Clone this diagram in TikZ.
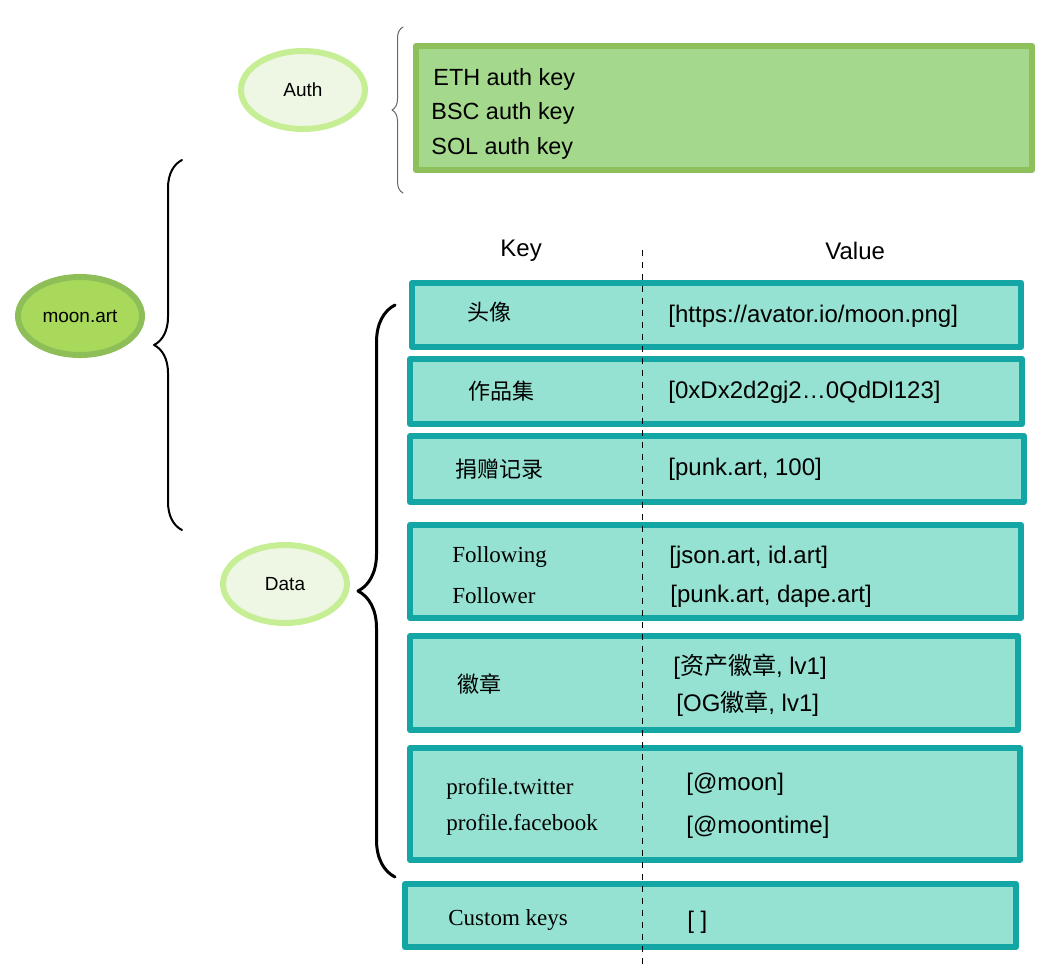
\documentclass[tikz,border=0pt]{standalone}
\usepackage{fontspec}
\setmainfont{Liberation Serif}
\setsansfont{Liberation Sans}
\newfontfamily\cjk{Noto Sans CJK SC}
\usetikzlibrary{shapes.geometric,fit,decorations.pathreplacing}
\definecolor{tealline}{HTML}{14A5A5}
\definecolor{tealfill}{HTML}{95E2D3}
\definecolor{authline}{HTML}{8DC05B}
\definecolor{authfill}{HTML}{A4D88C}
\definecolor{moonline}{HTML}{8EBE57}
\definecolor{moonfill}{HTML}{A9D95B}
\definecolor{paleline}{HTML}{C6EF95}
\definecolor{palefill}{HTML}{EEF6E4}
\begin{document}
\begin{tikzpicture}[x=0.5pt,y=-0.5pt,line join=round,line cap=round,
 rowbox/.style={draw=tealline,fill=tealfill,line width=3pt,inner sep=0pt},
 authbox/.style={draw=authline,fill=authfill,line width=3pt,inner sep=0pt},
 bubble/.style={ellipse,line width=3pt,inner sep=0pt,minimum width=62pt,minimum height=39pt,font=\sffamily\fontsize{9.5}{11}\selectfont},
 keytxt/.style={anchor=west,inner sep=0pt,yshift=-0.8pt,font=\fontsize{11.5}{13}\selectfont},
 cjktxt/.style={anchor=west,inner sep=0pt,font=\cjk\fontsize{11}{13}\selectfont},
 valtxt/.style={anchor=west,inner sep=0pt,yshift=-0.8pt,font=\sffamily\fontsize{12}{14}\selectfont},
 bigbrace/.style={decorate,decoration={brace,amplitude=#1}}]
 \useasboundingbox (0,0) rectangle (1054,966);
 % ellipses
 \node[bubble,draw=moonline,fill=moonfill] (moon) at (80,316) {moon.art};
 \node[bubble,draw=paleline,fill=palefill] (auth) at (303,90) {Auth};
 \node[bubble,draw=paleline,fill=palefill] (data) at (285,584) {Data};
 % braces
 \coordinate (mtop) at (182,160); \coordinate (mbot) at (182,530);
 \coordinate (atop) at (403,27); \coordinate (abot) at (403,193);
 \coordinate (dtop) at (395,305); \coordinate (dbot) at (395,877);
 \draw[bigbrace=14pt,line width=1pt] (mbot) -- (mtop);
 \draw[bigbrace=5.5pt,line width=0.5pt,black!60] (abot) -- (atop);
 \draw[bigbrace=18.5pt,line width=1.5pt] (dbot) -- (dtop);
 % auth keys
 \node[authbox,fit={(416,46) (1032,170)}] (keys) {};
 \node[valtxt,font=\sffamily\fontsize{11.7}{14}\selectfont] (eth) at (433,78) {ETH auth key};
 \node[valtxt,font=\sffamily\fontsize{11.7}{14}\selectfont] (bsc) at (431,112) {BSC auth key};
 \node[valtxt,font=\sffamily\fontsize{11.7}{14}\selectfont] (sol) at (431,147) {SOL auth key};
 % data rows
 \node[rowbox,fit={(412,283) (1021,347)}] (r1) {};
 \node[rowbox,fit={(410,359) (1022,424)}] (r2) {};
 \node[rowbox,fit={(410,436) (1024,502)}] (r3) {};
 \node[rowbox,fit={(410,525) (1021,618)}] (r4) {};
 \node[rowbox,fit={(410,636) (1018,730)}] (r5) {};
 \node[rowbox,fit={(410,748) (1020,860)}] (r6) {};
 \node[rowbox,fit={(405,884) (1016,947)}] (r7) {};
 \coordinate (ltop) at (642,250); \coordinate (lbot) at (642,966);
 \draw[dashed,line width=0.5pt,line cap=butt] (ltop) -- (lbot);
 \node[valtxt] (khead) at (500,249) {Key};
 \node[valtxt] (vhead) at (825,249) {Value};
 \node[cjktxt] (k1) at (467,312) {头像};
 \node[cjktxt] (k2) at (468,391) {作品集};
 \node[cjktxt] (k3) at (455,469) {捐赠记录};
 \node[keytxt] (k4a) at (452,555) {Following};
 \node[keytxt] (k4b) at (452,594) {Follower};
 \node[cjktxt] (k5) at (457,684) {徽章};
 \node[keytxt] (k6a) at (446,787) {profile.twitter};
 \node[keytxt] (k6b) at (446,823) {profile.facebook};
 \node[keytxt] (k7) at (448,918) {Custom keys};
 \node[valtxt] (v1) at (668,315) {[https://avator.io/moon.png]};
 \node[valtxt] (v2) at (668,391) {[0xDx2d2gj2…0QdDl123]};
 \node[valtxt] (v3) at (668,468) {[punk.art, 100]};
 \node[valtxt] (v4a) at (669,556) {[json.art, id.art]};
 \node[valtxt] (v4b) at (670,595) {[punk.art, dape.art]};
 \node[valtxt] (v5a) at (673,665) {[{\cjk 资产徽章}, lv1]};
 \node[valtxt] (v5b) at (676,702) {[OG{\cjk 徽章}, lv1]};
 \node[valtxt] (v6a) at (686,783) {[@moon]};
 \node[valtxt] (v6b) at (686,826) {[@moontime]};
 \node[valtxt] (v7) at (687,921) {[ ]};
\end{tikzpicture}
\end{document}
